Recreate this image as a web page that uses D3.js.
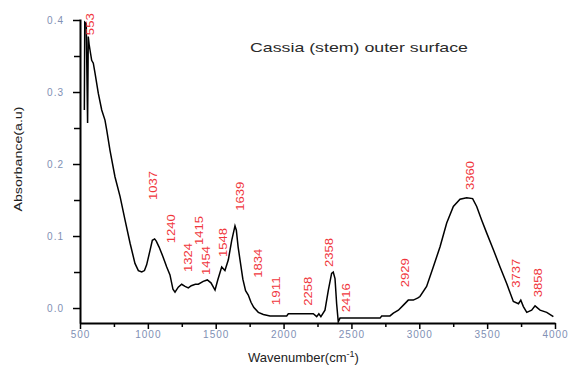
<!DOCTYPE html>
<html>
<head>
<meta charset="utf-8">
<script src="https://cdn.jsdelivr.net/npm/d3@7"></script>
<style>
  body { margin: 0; background: #fff; }
  svg { display: block; font-family: "Liberation Sans", Arial, sans-serif; }
</style>
</head>
<body>
<div class="canvas"></div>
<script>
// spectrum
const wavenumbers = [532, 535, 546, 556, 561, 568, 574, 586, 598, 611, 635, 660, 684, 697, 721, 758, 795, 832, 869, 905,
  930, 955, 975, 991, 1016, 1033, 1050, 1062, 1082, 1112, 1139, 1163, 1185, 1200, 1224, 1249, 1274, 1298, 1320, 1350,
  1372, 1408, 1438, 1465, 1495, 1515, 1544, 1568, 1593, 1618, 1642, 1652, 1665, 1679, 1700, 1720, 1740, 1760, 1780, 1814,
  1851, 1900, 2023, 2035, 2219, 2244, 2260, 2275, 2305, 2330, 2354, 2366, 2379, 2391, 2403, 2416, 2711, 2723, 2784, 2809,
  2846, 2883, 2919, 2956, 2990, 3005, 3054, 3103, 3153, 3202, 3251, 3300, 3349, 3393, 3423, 3460, 3497, 3546, 3595, 3644,
  3693, 3731, 3748, 3767, 3792, 3828, 3853, 3890, 3939, 3988];
const absorbance = [0.275, 0.397, 0.395, 0.257, 0.377, 0.365, 0.358, 0.344, 0.340, 0.326, 0.298, 0.275, 0.261, 0.247, 0.219, 0.182, 0.155, 0.122, 0.090, 0.062,
  0.052, 0.050, 0.052, 0.060, 0.080, 0.094, 0.096, 0.093, 0.085, 0.071, 0.057, 0.046, 0.026, 0.022, 0.029, 0.033, 0.030, 0.028, 0.031, 0.033,
  0.033, 0.037, 0.039, 0.035, 0.025, 0.039, 0.057, 0.052, 0.067, 0.094, 0.114, 0.108, 0.085, 0.067, 0.040, 0.024, 0.018, 0.008, 0.001, -0.006,
  -0.009, -0.011, -0.011, -0.008, -0.008, -0.012, -0.008, -0.012, -0.003, 0.025, 0.048, 0.050, 0.041, 0.006, -0.019, -0.014, -0.014, -0.011, -0.011, -0.007,
  -0.003, 0.004, 0.011, 0.011, 0.014, 0.016, 0.030, 0.057, 0.085, 0.118, 0.141, 0.151, 0.153, 0.152, 0.141, 0.122, 0.104, 0.081, 0.057, 0.034,
  0.009, 0.006, 0.011, 0.002, -0.006, -0.003, 0.003, -0.003, -0.006, -0.012];

// peak labels, anchored (bottom of text) in data units
const peakText = ["553", "1037", "1240", "1324", "1415", "1454", "1548", "1639", "1834", "1911", "2258", "2358", "2416", "2929", "3360", "3737", "3858"];
const peakWn = [577, 1042, 1171, 1300, 1384, 1432, 1554, 1683, 1812, 1948, 2187, 2338, 2464, 2902, 3374, 3713, 3875];
const peakAbs = [0.379, 0.150, 0.090, 0.050, 0.0875, 0.046, 0.071, 0.135, 0.042, 0.004, 0.003, 0.057, -0.006, 0.029, 0.164, 0.028, 0.015];

const xTicks = [500, 1000, 1500, 2000, 2500, 3000, 3500, 4000];
const xMinor = [750, 1250, 1750, 2250, 2750, 3250, 3750];
const yTicks = [0.0, 0.1, 0.2, 0.3, 0.4];
const yMinor = [0.05, 0.15, 0.25, 0.35];

const width = 569;
const height = 365;
const tickColor = "#8190b4";

const svg = d3.select(".canvas").append("svg")
  .attr("width", width)
  .attr("height", height);

const x = d3.scaleLinear().domain([500, 4000]).range([80, 555]);
const y = d3.scaleLinear().domain([-0.0208, 0.4014]).range([323, 19]);

// minor ticks first
svg.append("g")
  .attr("transform", "translate(0,323)")
  .call(d3.axisBottom(x).tickValues(xMinor).tickSize(4).tickFormat(""))
  .call(g => g.select(".domain").remove())
  .call(g => g.selectAll("line").attr("stroke", "#000").attr("stroke-width", 1.5));

svg.append("g")
  .attr("transform", "translate(80,0)")
  .call(d3.axisLeft(y).tickValues(yMinor).tickSize(6).tickFormat(""))
  .call(g => g.select(".domain").remove())
  .call(g => g.selectAll("line").attr("stroke", "#000").attr("stroke-width", 1.5));

// major axes
const xAxis = svg.append("g")
  .attr("transform", "translate(0,323)")
  .call(d3.axisBottom(x).tickValues(xTicks).tickSize(6).tickSizeOuter(0).tickPadding(2).tickFormat(d3.format("d")));

const yAxis = svg.append("g")
  .attr("transform", "translate(80,0)")
  .call(d3.axisLeft(y).tickValues(yTicks).tickSize(7).tickSizeOuter(0).tickPadding(9).tickFormat(d3.format(".1f")));

[xAxis, yAxis].forEach(g => {
  g.select(".domain").attr("stroke", "#000").attr("stroke-width", 2);
  g.selectAll(".tick line").attr("stroke", "#000").attr("stroke-width", 1.5);
  g.selectAll(".tick text")
    .attr("fill", tickColor)
    .style("font-size", "10px")
    .style("letter-spacing", "1px");
});

// spectrum
const pts = wavenumbers.map((w, i) => [w, absorbance[i]]);
svg.append("path")
  .datum(pts)
  .attr("fill", "none")
  .attr("stroke", "#000")
  .attr("stroke-width", 1.5)
  .attr("d", d3.line().x(d => x(d[0])).y(d => y(d[1])));

// peak labels
svg.append("g").selectAll("text")
  .data(peakText)
  .join("text")
  .attr("transform", (d, i) => `translate(${x(peakWn[i])},${y(peakAbs[i])}) rotate(-90)`)
  .attr("dy", "0.35em")
  .attr("fill", "#f0363c")
  .style("font-size", "10px")
  .attr("textLength", d => d.length === 3 ? 22 : 29)
  .attr("lengthAdjust", "spacingAndGlyphs")
  .text(d => d);

// title
svg.append("text")
  .attr("x", 250)
  .attr("y", 52)
  .attr("fill", "#2a2a2a")
  .style("font-size", "13px")
  .attr("textLength", 218)
  .attr("lengthAdjust", "spacingAndGlyphs")
  .text("Cassia (stem) outer surface");

// axis titles
svg.append("text")
  .attr("transform", "translate(18,159) rotate(-90)")
  .attr("text-anchor", "middle")
  .attr("dy", "0.35em")
  .attr("fill", "#222")
  .style("font-size", "11px")
  .attr("textLength", 105)
  .attr("lengthAdjust", "spacingAndGlyphs")
  .text("Absorbance(a.u)");

const xl = svg.append("text")
  .attr("x", 248)
  .attr("y", 362)
  .attr("fill", "#222")
  .style("font-size", "13px");
xl.append("tspan").text("Wavenumber(cm");
xl.append("tspan").attr("dy", -5).style("font-size", "9px").text("-1");
xl.append("tspan").attr("dy", 5).text(")");
</script>
</body>
</html>
